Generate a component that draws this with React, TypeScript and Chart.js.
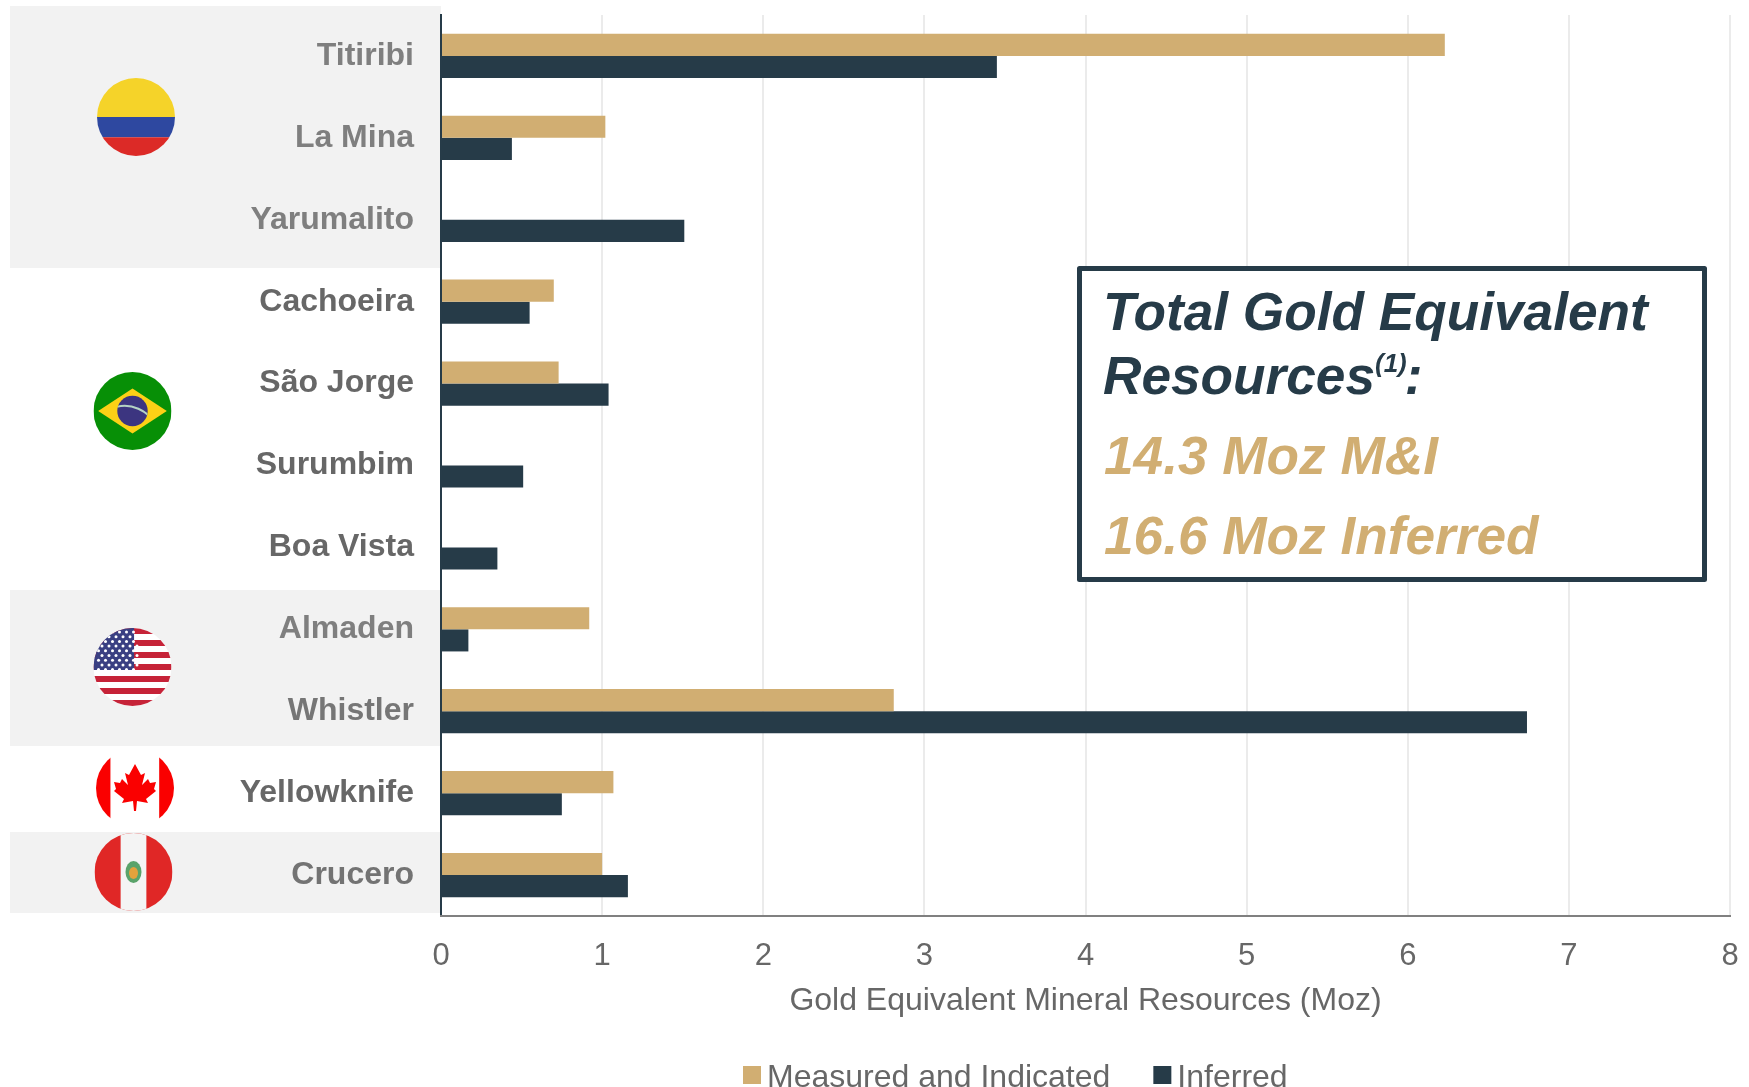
import React, { useEffect, useRef } from "react";
import { Chart, registerables } from "chart.js";

Chart.register(...registerables);

const categories = ["Titiribi", "La Mina", "Yarumalito", "Cachoeira", "São Jorge", "Surumbim", "Boa Vista", "Almaden", "Whistler", "Yellowknife", "Crucero"];
const measuredIndicated = [6.23, 1.02, null, 0.7, 0.73, null, null, 0.92, 2.81, 1.07, 1.0];
const inferred = [3.45, 0.44, 1.51, 0.55, 1.04, 0.51, 0.35, 0.17, 6.74, 0.75, 1.16];
const labelColors = ["#7f7f7f", "#7f7f7f", "#7f7f7f", "#676767", "#676767", "#676767", "#676767", "#7f7f7f", "#767676", "#676767", "#737373"];
const xTicks = [0, 1, 2, 3, 4, 5, 6, 7, 8];
const xTitle = "Gold Equivalent Mineral Resources (Moz)";
const boxLines = ["Total Gold Equivalent", "Resources", "14.3 Moz M&I", "16.6 Moz Inferred"];

const GOLD = "#d1ae72";
const NAVY = "#263b48";
const FONT = '"Liberation Sans", Arial, sans-serif';

function circleClip(c: CanvasRenderingContext2D, x: number, y: number, r: number, draw: () => void) {
  c.save();
  c.beginPath();
  c.arc(x, y, r, 0, Math.PI * 2);
  c.clip();
  draw();
  c.restore();
}

function colombia(c: CanvasRenderingContext2D, x: number, y: number, r: number) {
  circleClip(c, x, y, r, () => {
    c.fillStyle = "#f5d329"; c.fillRect(x - r, y - r, 2 * r, r);
    c.fillStyle = "#2e48a0"; c.fillRect(x - r, y, 2 * r, r * 0.52);
    c.fillStyle = "#dc2a27"; c.fillRect(x - r, y + r * 0.52, 2 * r, r);
  });
}

function brazil(c: CanvasRenderingContext2D, x: number, y: number, r: number) {
  circleClip(c, x, y, r, () => {
    c.fillStyle = "#078f06"; c.fillRect(x - r, y - r, 2 * r, 2 * r);
    c.fillStyle = "#fcd116";
    c.beginPath();
    c.moveTo(x - r * 0.88, y); c.lineTo(x, y - r * 0.58); c.lineTo(x + r * 0.88, y); c.lineTo(x, y + r * 0.58);
    c.closePath(); c.fill();
    c.fillStyle = "#3c3580";
    c.beginPath(); c.arc(x, y, r * 0.39, 0, Math.PI * 2); c.fill();
    c.save();
    c.beginPath(); c.arc(x, y, r * 0.39, 0, Math.PI * 2); c.clip();
    c.strokeStyle = "#b5d3c4"; c.lineWidth = 2;
    c.beginPath(); c.arc(x - r * 0.2, y + r * 0.75, r * 0.88, -Math.PI * 0.62, -Math.PI * 0.1); c.stroke();
    c.restore();
  });
}

function usa(c: CanvasRenderingContext2D, x: number, y: number, r: number) {
  circleClip(c, x, y, r, () => {
    c.fillStyle = "#ffffff"; c.fillRect(x - r, y - r, 2 * r, 2 * r);
    const h = (2 * r) / 13;
    c.fillStyle = "#c62338";
    for (let i = 0; i < 13; i += 2) c.fillRect(x - r, y - r + i * h, 2 * r, h);
    c.fillStyle = "#3a3f82"; c.fillRect(x - r, y - r, r * 1.04, h * 7);
    c.fillStyle = "#ffffff";
    for (let row = 0; row < 9; row++) {
      for (let col = 0; col < 6; col++) {
        c.beginPath();
        c.arc(x - r + 5 + col * 7 + (row % 2) * 3.5, y - r + 4 + row * 4.7, 1.5, 0, Math.PI * 2);
        c.fill();
      }
    }
  });
}

function canada(c: CanvasRenderingContext2D, x: number, y: number, r: number) {
  circleClip(c, x, y, r, () => {
    c.fillStyle = "#ffffff"; c.fillRect(x - r, y - r, 2 * r, 2 * r);
    c.fillStyle = "#fa0000";
    c.fillRect(x - r, y - r, r * 0.37, 2 * r);
    c.fillRect(x + r * 0.62, y - r, r, 2 * r);
  });
  const s = r / 39;
  const leaf = [[0, -24], [-6, -13], [-10, -15], [-7, -3], [-13, -9], [-15, -5], [-21, -6], [-19, 1], [-21, 3], [-11, 11], [-13, 15], [-2, 13], [-1, 23], [1, 23], [2, 13], [13, 15], [11, 11], [21, 3], [19, 1], [21, -6], [15, -5], [13, -9], [7, -3], [10, -15], [6, -13]];
  c.fillStyle = "#fa0000";
  c.beginPath();
  leaf.forEach(([a, b], i) => {
    const px = x + a * s;
    const py = y + b * s;
    if (i === 0) c.moveTo(px, py);
    else c.lineTo(px, py);
  });
  c.closePath();
  c.fill();
}

function peru(c: CanvasRenderingContext2D, x: number, y: number, r: number) {
  circleClip(c, x, y, r, () => {
    c.fillStyle = "#e02726"; c.fillRect(x - r, y - r, 2 * r, 2 * r);
    c.fillStyle = "#f4f4f4"; c.fillRect(x - r * 0.33, y - r, r * 0.66, 2 * r);
    c.fillStyle = "#5aa36a"; c.beginPath(); c.ellipse(x, y, 8, 11, 0, 0, Math.PI * 2); c.fill();
    c.fillStyle = "#e4a23c"; c.beginPath(); c.ellipse(x, y + 1, 4.5, 6, 0, 0, Math.PI * 2); c.fill();
  });
}

const decorPlugin = {
  id: "decor",
  beforeDraw(chart: any) {
    const c: CanvasRenderingContext2D = chart.ctx;
    const left = chart.chartArea.left;
    c.save();
    c.fillStyle = "#f2f2f2";
    c.fillRect(10, 6, left - 10, 262);
    c.fillRect(10, 590, left - 10, 156);
    c.fillRect(10, 832, left - 10, 81);
    colombia(c, 136, 117, 39);
    brazil(c, 132.5, 411, 39);
    usa(c, 132.5, 667, 39);
    canada(c, 135, 788, 39);
    peru(c, 133.5, 872, 39);
    c.restore();
  },
  afterDraw(chart: any) {
    const c: CanvasRenderingContext2D = chart.ctx;
    c.save();
    // summary box
    c.fillStyle = "#ffffff";
    c.fillRect(1079, 268, 625, 311);
    c.strokeStyle = NAVY;
    c.lineWidth = 5;
    c.lineJoin = "round";
    c.strokeRect(1079.5, 268.5, 625, 311);
    c.textAlign = "left";
    c.textBaseline = "alphabetic";
    c.font = `italic bold 53.2px ${FONT}`;
    c.fillStyle = NAVY;
    c.fillText(boxLines[0], 1103, 330);
    c.fillText(boxLines[1], 1103, 394);
    const w = c.measureText(boxLines[1]).width;
    c.font = `italic bold 26px ${FONT}`;
    c.fillText("(1)", 1103 + w, 372);
    const w2 = c.measureText("(1)").width;
    c.font = `italic bold 53.2px ${FONT}`;
    c.fillText(":", 1103 + w + w2 - 2, 394);
    c.fillStyle = GOLD;
    c.fillText(boxLines[2], 1104, 474);
    c.fillText(boxLines[3], 1104, 554);

    // legend
    c.font = `32px ${FONT}`;
    c.textBaseline = "middle";
    let x = 743;
    chart.data.datasets.forEach((d: any) => {
      c.fillStyle = d.backgroundColor;
      c.fillRect(x, 1066, 18, 18);
      c.fillStyle = "#676767";
      c.fillText(d.label, x + 24, 1078);
      x += 24 + c.measureText(d.label).width + 43;
    });
    c.restore();
  },
};

export default function App() {
  const ref = useRef<HTMLCanvasElement>(null);
  useEffect(() => {
    const chart = new Chart(ref.current as HTMLCanvasElement, {
      type: "bar",
      data: {
        labels: categories,
        datasets: [
          { label: "Measured and Indicated", data: measuredIndicated as any, backgroundColor: GOLD },
          { label: "Inferred", data: inferred, backgroundColor: NAVY },
        ],
      },
      plugins: [decorPlugin],
      options: {
        indexAxis: "y",
        responsive: false,
        animation: false,
        devicePixelRatio: 1,
        layout: { padding: { left: 0, right: 19, top: 15, bottom: 0 } },
        datasets: { bar: { categoryPercentage: 0.54, barPercentage: 1 } },
        plugins: { legend: { display: false }, tooltip: { enabled: false } },
        scales: {
          y: {
            afterFit: (s: any) => { s.width = 441; s.paddingTop = 0; s.paddingBottom = 0; },
            grid: { display: false, drawTicks: false },
            border: { color: NAVY, width: 2 },
            ticks: {
              padding: 27,
              font: { family: FONT, size: 32, weight: "bold" },
              color: (ctx: any) => labelColors[ctx.index],
              autoSkip: false,
            },
          },
          x: {
            min: 0,
            max: 8,
            afterFit: (s: any) => { s.height = 171; s.paddingLeft = 0; s.paddingRight = 0; },
            afterBuildTicks: (s: any) => { s.ticks = xTicks.map((value) => ({ value })); },
            grid: { color: "#ebebeb", lineWidth: 2, drawTicks: false },
            border: { color: "#808080", width: 2 },
            ticks: { padding: 22, font: { family: FONT, size: 31 }, color: "#676767", maxRotation: 0 },
            title: {
              display: true,
              text: xTitle,
              color: "#676767",
              font: { family: FONT, size: 32 },
              padding: { top: 0, bottom: 67 },
            },
          },
        },
      },
    } as any);
    return () => chart.destroy();
  }, []);
  return (
    <div style={{ position: "absolute", left: 0, top: 0, width: 1749, height: 1087, background: "#fff" }}>
      <canvas ref={ref} width={1749} height={1087} style={{ display: "block" }} />
    </div>
  );
}
